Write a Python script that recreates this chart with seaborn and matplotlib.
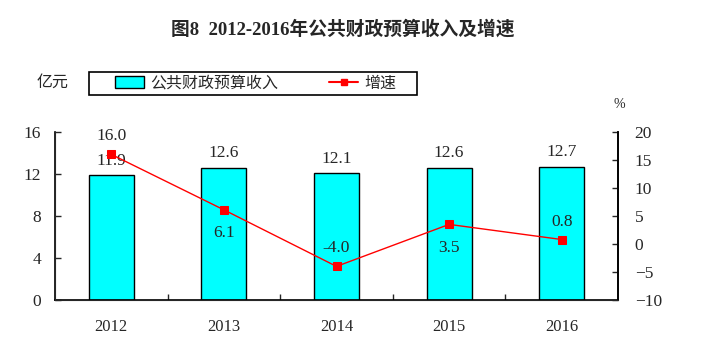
import matplotlib
matplotlib.use("Agg")
import matplotlib.pyplot as plt
import seaborn as sns
import pandas as pd
from matplotlib.ticker import FixedLocator
from matplotlib.patches import Patch, Rectangle
from matplotlib.lines import Line2D

years = ["2012", "2013", "2014", "2015", "2016"]
revenue = [11.9, 12.6, 12.1, 12.6, 12.7]
growth = [16.0, 6.1, -4.0, 3.5, 0.8]
growth_pos = ["top", "bottom", "top", "bottom", "top"]

sns.set_style("white")
plt.rcParams['font.family'] = ['Liberation Serif', 'Noto Sans CJK SC', 'DejaVu Sans']

df = pd.DataFrame({"year": years, "revenue": revenue, "growth": growth})

fig = plt.figure(figsize=(7.27, 3.52), dpi=100)
ax = fig.add_axes([55 / 727, 1 - 300 / 352, (618 - 55) / 727, (300 - 132) / 352])

# bars: revenue
sns.barplot(data=df, x="year", y="revenue", ax=ax, color="#00FFFF",
            edgecolor="black", linewidth=1, width=0.4, saturation=1)
ax.set_ylim(0, 16)
ax.set_xlim(-0.5, 4.5)
ax.set_yticks([0, 4, 8, 12, 16])
ax.set_xlabel("")
ax.set_ylabel("")
ax.spines["top"].set_visible(False)
for s in ["left", "bottom", "right"]:
    ax.spines[s].set_color("black")
    ax.spines[s].set_linewidth(1.2)
ax.tick_params(axis="y", direction="in", length=4, width=1, labelsize=12.5, pad=10, left=True)
ax.tick_params(axis="x", which="major", length=0, labelsize=12, pad=14)
ax.xaxis.set_minor_locator(FixedLocator([0.5, 1.5, 2.5, 3.5]))
ax.tick_params(axis="x", which="minor", direction="in", length=4, width=1, bottom=True)

for i, v in enumerate(revenue):
    ax.text(i, v + 0.6, f"{v:.1f}", ha="center", va="bottom", fontsize=12.5)

# line: growth rate
ax2 = ax.twinx()
sns.lineplot(x=list(range(len(years))), y=growth, ax=ax2, color="red", linewidth=1,
             marker="s", markersize=6, markeredgecolor="red")
ax2.set_ylim(-10, 20)
ax2.set_yticks([-10, -5, 0, 5, 10, 15, 20])
ax2.spines["top"].set_visible(False)
ax2.spines["right"].set_color("black")
ax2.spines["right"].set_linewidth(1.2)
ax2.tick_params(axis="y", direction="in", length=4, width=1, labelsize=12.5, pad=12, right=True)
ax2.set_xlim(-0.5, 4.5)

for i, (v, p) in enumerate(zip(growth, growth_pos)):
    dy = 3.2 if p == "top" else -4.2
    ax2.text(i, v + dy, f"{v:.1f}", ha="center", va="center", fontsize=12.5)

fig.text(343 / 727, 1 - 29 / 352, "图8  2012-2016年公共财政预算收入及增速", ha="center", va="center",
         fontsize=13.5, fontweight="bold")
fig.text(37 / 727, 1 - 83 / 352, "亿元", ha="left", va="center", fontsize=11.5)
fig.text(619 / 727, 1 - 104 / 352, "%", ha="center", va="center", fontsize=10)

# legend with a manual frame
fig.patches.append(Rectangle((89 / 727, 1 - 95 / 352), (417 - 89) / 727, 23 / 352,
                             transform=fig.transFigure, facecolor="white",
                             edgecolor="black", linewidth=1.2, zorder=5))
handles = [Patch(facecolor="#00FFFF", edgecolor="black", label="公共财政预算收入"),
           Line2D([0], [0], color="red", marker="s", markersize=5, label="增速")]
leg = fig.legend(handles=handles, loc="center left", bbox_to_anchor=(115 / 727, 1 - 83.5 / 352),
                 ncol=2, frameon=False, fontsize=11.5, borderaxespad=0, borderpad=0,
                 columnspacing=3.2, handlelength=1.8, handletextpad=0.4)
leg.set_zorder(6)

fig.savefig("out.png", dpi=100)
